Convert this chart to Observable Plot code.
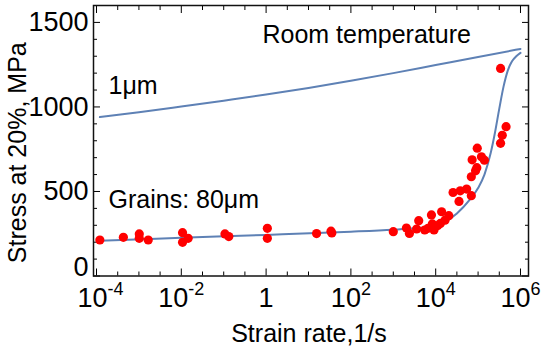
<!DOCTYPE html>
<html>
<head>
<meta charset="utf-8">
<script src="https://cdn.jsdelivr.net/npm/d3@7"></script>
<script src="https://cdn.jsdelivr.net/npm/@observablehq/plot@0.6"></script>
<style>
  html, body { margin: 0; padding: 0; background: #fff; }
</style>
</head>
<body>
<div id="chart"></div>
<script>
// ---- data ----
// Model curve, 80 μm grains
const coarseRate   = [1.2e-4, 0.01, 1, 100, 1000, 3162, 7943, 15849, 31623, 63096, 1e5, 141254, 199526, 251189, 316228, 398107, 501187, 630957, 794328, 1e6];
const coarseStress = [209, 226, 243, 262, 274, 282, 292, 318, 370, 450, 520, 600, 730, 850, 990, 1120, 1215, 1270, 1300, 1320];
// Model curve, 1 μm grains
const fineRate   = [1.2e-4, 1e-3, 1e-2, 0.1, 1, 10, 100, 1000, 1e4, 1e5, 1e6];
const fineStress = [940, 968, 1002, 1037, 1073, 1112, 1155, 1200, 1248, 1296, 1343];
// Experimental points
const expRate = [1.2e-4, 4.3e-4, 1.02e-3, 1.02e-3, 1.66e-3, 0.0107, 0.0107, 0.0145, 0.107, 0.132, 1.07, 1.07,
  15.5, 33.9, 35.5,
  1000, 2040, 2400, 3980, 3550, 5500, 6600, 7940, 8320, 9120, 11200, 13800, 12900, 16600, 20400,
  25700, 35500, 38000, 53700, 69200, 72400, 95500, 69200, 87100, 93300, 120000, 141000,
  339000, 339000, 372000, 457000];
const expStress = [213, 229, 249, 223, 213, 256, 199, 223, 249, 233, 282, 223,
  251, 265, 255,
  262, 284, 252, 327, 278, 272, 282, 361, 308, 272, 298, 380, 311, 330, 357,
  494, 441, 504, 514, 475, 687, 756, 587, 622, 641, 705, 685,
  1228, 785, 832, 883];

const xMajor = [1e-4, 1e-2, 1, 1e2, 1e4, 1e6];
const xTickLabels = ["10^-4", "10^-2", "1", "10^2", "10^4", "10^6"];
const xMinor = d3.range(-4, 6.01, 0.5).filter(e => e % 2 !== 0).map(e => 10 ** e);
const yMajor = [0, 500, 1000, 1500];
const yTickLabels = ["0", "500", "1000", "1500"];
const yMinor = d3.range(0, 1601, 100).filter(v => v % 500 !== 0);

const annoText  = ["Room temperature", "1μm", "Grains: 80μm"];
const annoRate  = [0.82, 1.92e-4, 1.92e-4];
const annoStress = [1424, 1125, 451];

const xTitle = "Strain rate,1/s";
const yTitle = "Stress at 20%, MPa";

// ---- tables ----
const coarse = coarseRate.map((x, i) => ({x, y: coarseStress[i]}));
const fine = fineRate.map((x, i) => ({x, y: fineStress[i]}));
const exp = expRate.map((x, i) => ({x, y: expStress[i]}));
const anno = annoText.map((t, i) => ({t, x: annoRate[i], y: annoStress[i]}));
const xLab = new Map(xMajor.map((v, i) => [v, xTickLabels[i]]));
const yLab = new Map(yMajor.map((v, i) => [v, yTickLabels[i]]));

const blue = "#5E81B5";
const majorLen = 7, minorLen = 4;

const chart = Plot.plot({
  width: 550,
  height: 350,
  marginLeft: 93,
  marginRight: 22,
  marginTop: 5,
  marginBottom: 74.5,
  style: {fontFamily: "'Liberation Sans', Arial, sans-serif", fontSize: "27px", color: "#000", background: "#fff"},
  x: {type: "log", domain: [10 ** -4.071, 10 ** 6.189], label: null},
  y: {domain: [0, 1600], label: null},
  marks: [
    // inward ticks, all four sides
    Plot.axisX(xMajor, {anchor: "bottom", tickSize: majorLen, dy: -majorLen, tickFormat: () => "", label: null}),
    Plot.axisX(xMinor, {anchor: "bottom", tickSize: minorLen, dy: -minorLen, tickFormat: () => "", label: null}),
    Plot.axisX(xMajor, {anchor: "top", tickSize: majorLen, dy: majorLen, tickFormat: () => "", label: null}),
    Plot.axisX(xMinor, {anchor: "top", tickSize: minorLen, dy: minorLen, tickFormat: () => "", label: null}),
    Plot.axisY(yMajor, {anchor: "left", tickSize: majorLen, dx: majorLen, tickFormat: () => "", label: null}),
    Plot.axisY(yMinor, {anchor: "left", tickSize: minorLen, dx: minorLen, tickFormat: () => "", label: null}),
    Plot.axisY(yMajor, {anchor: "right", tickSize: majorLen, dx: -majorLen, tickFormat: () => "", label: null}),
    Plot.axisY(yMinor, {anchor: "right", tickSize: minorLen, dx: -minorLen, tickFormat: () => "", label: null}),
    // tick labels
    Plot.axisX(xMajor, {anchor: "bottom", tickSize: 0, tickPadding: 12, tickFormat: d => xLab.get(d), label: null, fontSize: 27}),
    Plot.axisY(yMajor, {anchor: "left", tickSize: 0, tickPadding: 5, tickFormat: d => yLab.get(d), label: null, fontSize: 27}),
    // data
    Plot.line(fine, {x: "x", y: "y", stroke: blue, strokeWidth: 2, curve: "monotone-x"}),
    Plot.line(coarse, {x: "x", y: "y", stroke: blue, strokeWidth: 2, curve: "monotone-x"}),
    Plot.dot(exp, {x: "x", y: "y", r: 4.6, fill: "#ff0000", stroke: "none"}),
    Plot.frame({stroke: "#111", strokeWidth: 1.5}),
    // annotations
    Plot.text(anno, {x: "x", y: "y", text: "t", textAnchor: "start", lineAnchor: "middle", fontSize: 25, fill: "#000"}),
    // axis titles
    Plot.text([xTitle], {text: d => d, frameAnchor: "bottom", dy: 58, dx: -2, textAnchor: "middle", lineAnchor: "middle", fontSize: 25, fill: "#000"}),
    Plot.text([yTitle], {text: d => d, frameAnchor: "left", rotate: -90, dx: -76, dy: 12, textAnchor: "middle", lineAnchor: "middle", fontSize: 25, fill: "#000"})
  ]
});

// superscript exponents for x tick labels
const NS = "http://www.w3.org/2000/svg";
chart.querySelectorAll('g[aria-label="x-axis tick label"] text').forEach(t => {
  const s = t.textContent;
  const m = s.match(/^(\d+)\^(.+)$/);
  if (m) {
    t.textContent = "";
    const a = document.createElementNS(NS, "tspan");
    a.textContent = m[1];
    const b = document.createElementNS(NS, "tspan");
    b.setAttribute("dy", "-12");
    b.setAttribute("font-size", "18");
    b.textContent = m[2];
    t.appendChild(a); t.appendChild(b);
  }
  if (s === "10^-4") t.setAttribute("dx", "4");
});
chart.querySelectorAll('g[aria-label="y-axis tick label"] text').forEach(t => {
  if (t.textContent === "0") t.setAttribute("dy", "-9");
});

document.getElementById("chart").appendChild(chart);
</script>
</body>
</html>
